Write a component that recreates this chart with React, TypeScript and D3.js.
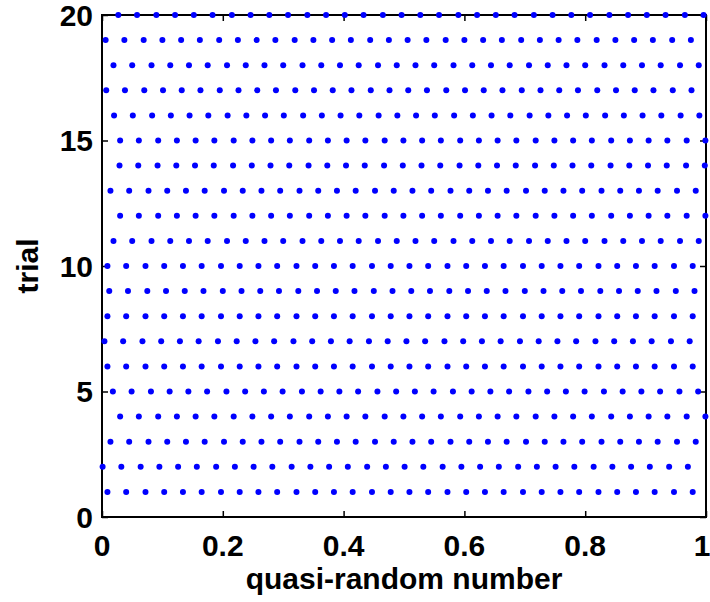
import { useEffect, useRef } from 'react'
import * as d3 from 'd3'

// quasi-random numbers, one array per trial
const trial01 = [0.009, 0.040, 0.072, 0.103, 0.134, 0.165, 0.197, 0.228, 0.259, 0.290, 0.322, 0.353, 0.384, 0.415, 0.447, 0.478, 0.509, 0.540, 0.572, 0.603, 0.634, 0.665, 0.697, 0.728, 0.759, 0.790, 0.822, 0.853, 0.884, 0.915, 0.947, 0.978]
const trial02 = [0.001, 0.032, 0.064, 0.095, 0.126, 0.157, 0.189, 0.220, 0.251, 0.282, 0.314, 0.345, 0.376, 0.407, 0.439, 0.470, 0.501, 0.532, 0.564, 0.595, 0.626, 0.657, 0.689, 0.720, 0.751, 0.782, 0.814, 0.845, 0.876, 0.907, 0.939, 0.970]
const trial03 = [0.014, 0.045, 0.077, 0.108, 0.139, 0.170, 0.202, 0.233, 0.264, 0.295, 0.327, 0.358, 0.389, 0.420, 0.452, 0.483, 0.514, 0.545, 0.577, 0.608, 0.639, 0.670, 0.702, 0.733, 0.764, 0.795, 0.827, 0.858, 0.889, 0.920, 0.952, 0.983]
const trial04 = [0.030, 0.061, 0.093, 0.124, 0.155, 0.186, 0.218, 0.249, 0.280, 0.311, 0.343, 0.374, 0.405, 0.436, 0.468, 0.499, 0.530, 0.561, 0.593, 0.624, 0.655, 0.686, 0.718, 0.749, 0.780, 0.811, 0.843, 0.874, 0.905, 0.936, 0.968, 0.999]
const trial05 = [0.018, 0.049, 0.081, 0.112, 0.143, 0.174, 0.206, 0.237, 0.268, 0.299, 0.331, 0.362, 0.393, 0.424, 0.456, 0.487, 0.518, 0.549, 0.581, 0.612, 0.643, 0.674, 0.706, 0.737, 0.768, 0.799, 0.831, 0.862, 0.893, 0.924, 0.956, 0.987]
const trial06 = [0.009, 0.040, 0.072, 0.103, 0.134, 0.165, 0.197, 0.228, 0.259, 0.290, 0.322, 0.353, 0.384, 0.415, 0.447, 0.478, 0.509, 0.540, 0.572, 0.603, 0.634, 0.665, 0.697, 0.728, 0.759, 0.790, 0.822, 0.853, 0.884, 0.915, 0.947, 0.978]
const trial07 = [0.004, 0.035, 0.067, 0.098, 0.129, 0.160, 0.192, 0.223, 0.254, 0.285, 0.317, 0.348, 0.379, 0.410, 0.442, 0.473, 0.504, 0.535, 0.567, 0.598, 0.629, 0.660, 0.692, 0.723, 0.754, 0.785, 0.817, 0.848, 0.879, 0.910, 0.942, 0.973]
const trial08 = [0.009, 0.040, 0.072, 0.103, 0.134, 0.165, 0.197, 0.228, 0.259, 0.290, 0.322, 0.353, 0.384, 0.415, 0.447, 0.478, 0.509, 0.540, 0.572, 0.603, 0.634, 0.665, 0.697, 0.728, 0.759, 0.790, 0.822, 0.853, 0.884, 0.915, 0.947, 0.978]
const trial09 = [0.012, 0.043, 0.075, 0.106, 0.137, 0.168, 0.200, 0.231, 0.262, 0.293, 0.325, 0.356, 0.387, 0.418, 0.450, 0.481, 0.512, 0.543, 0.575, 0.606, 0.637, 0.668, 0.700, 0.731, 0.762, 0.793, 0.825, 0.856, 0.887, 0.918, 0.950, 0.981]
const trial10 = [0.009, 0.040, 0.072, 0.103, 0.134, 0.165, 0.197, 0.228, 0.259, 0.290, 0.322, 0.353, 0.384, 0.415, 0.447, 0.478, 0.509, 0.540, 0.572, 0.603, 0.634, 0.665, 0.697, 0.728, 0.759, 0.790, 0.822, 0.853, 0.884, 0.915, 0.947, 0.978]
const trial11 = [0.019, 0.050, 0.082, 0.113, 0.144, 0.175, 0.207, 0.238, 0.269, 0.300, 0.332, 0.363, 0.394, 0.425, 0.457, 0.488, 0.519, 0.550, 0.582, 0.613, 0.644, 0.675, 0.707, 0.738, 0.769, 0.800, 0.832, 0.863, 0.894, 0.925, 0.957, 0.988]
const trial12 = [0.030, 0.061, 0.093, 0.124, 0.155, 0.186, 0.218, 0.249, 0.280, 0.311, 0.343, 0.374, 0.405, 0.436, 0.468, 0.499, 0.530, 0.561, 0.593, 0.624, 0.655, 0.686, 0.718, 0.749, 0.780, 0.811, 0.843, 0.874, 0.905, 0.936, 0.968, 0.999]
const trial13 = [0.014, 0.045, 0.077, 0.108, 0.139, 0.170, 0.202, 0.233, 0.264, 0.295, 0.327, 0.358, 0.389, 0.420, 0.452, 0.483, 0.514, 0.545, 0.577, 0.608, 0.639, 0.670, 0.702, 0.733, 0.764, 0.795, 0.827, 0.858, 0.889, 0.920, 0.952, 0.983]
const trial14 = [0.029, 0.060, 0.092, 0.123, 0.154, 0.185, 0.217, 0.248, 0.279, 0.310, 0.342, 0.373, 0.404, 0.435, 0.467, 0.498, 0.529, 0.560, 0.592, 0.623, 0.654, 0.685, 0.717, 0.748, 0.779, 0.810, 0.842, 0.873, 0.904, 0.935, 0.967, 0.998]
const trial15 = [0.030, 0.061, 0.093, 0.124, 0.155, 0.186, 0.218, 0.249, 0.280, 0.311, 0.343, 0.374, 0.405, 0.436, 0.468, 0.499, 0.530, 0.561, 0.593, 0.624, 0.655, 0.686, 0.718, 0.749, 0.780, 0.811, 0.843, 0.874, 0.905, 0.936, 0.968, 0.999]
const trial16 = [0.020, 0.051, 0.083, 0.114, 0.145, 0.176, 0.208, 0.239, 0.270, 0.301, 0.333, 0.364, 0.395, 0.426, 0.458, 0.489, 0.520, 0.551, 0.583, 0.614, 0.645, 0.676, 0.708, 0.739, 0.770, 0.801, 0.833, 0.864, 0.895, 0.926, 0.958, 0.989]
const trial17 = [0.007, 0.038, 0.070, 0.101, 0.132, 0.163, 0.195, 0.226, 0.257, 0.288, 0.320, 0.351, 0.382, 0.413, 0.445, 0.476, 0.507, 0.538, 0.570, 0.601, 0.632, 0.663, 0.695, 0.726, 0.757, 0.788, 0.820, 0.851, 0.882, 0.913, 0.945, 0.976]
const trial18 = [0.019, 0.050, 0.082, 0.113, 0.144, 0.175, 0.207, 0.238, 0.269, 0.300, 0.332, 0.363, 0.394, 0.425, 0.457, 0.488, 0.519, 0.550, 0.582, 0.613, 0.644, 0.675, 0.707, 0.738, 0.769, 0.800, 0.832, 0.863, 0.894, 0.925, 0.957, 0.988]
const trial19 = [0.006, 0.037, 0.069, 0.100, 0.131, 0.162, 0.194, 0.225, 0.256, 0.287, 0.319, 0.350, 0.381, 0.412, 0.444, 0.475, 0.506, 0.537, 0.569, 0.600, 0.631, 0.662, 0.694, 0.725, 0.756, 0.787, 0.819, 0.850, 0.881, 0.912, 0.944, 0.975]
const trial20 = [0.027, 0.058, 0.090, 0.121, 0.152, 0.183, 0.215, 0.246, 0.277, 0.308, 0.340, 0.371, 0.402, 0.433, 0.465, 0.496, 0.527, 0.558, 0.590, 0.621, 0.652, 0.683, 0.715, 0.746, 0.777, 0.808, 0.840, 0.871, 0.902, 0.933, 0.965, 0.996]

const trials = [
  trial01, trial02, trial03, trial04, trial05, trial06, trial07, trial08, trial09, trial10,
  trial11, trial12, trial13, trial14, trial15, trial16, trial17, trial18, trial19, trial20,
]

const xTicks = [0, 0.2, 0.4, 0.6, 0.8, 1]
const yTicks = [0, 5, 10, 15, 20]

const width = 710
const height = 602
const FONT = '"Liberation Sans", Arial, Helvetica, sans-serif'

export default function App() {
  const svgRef = useRef<SVGSVGElement>(null)

  useEffect(() => {
    if (!svgRef.current) return
    const svg = d3.select(svgRef.current)
    svg.selectAll('*').remove()

    const left = 102
    const right = 706
    const top = 15
    const bottom = 517

    const x = d3.scaleLinear().domain([0, 1]).range([left, right])
    const y = d3.scaleLinear().domain([0, 20]).range([bottom, top])

    const tickLen = 6

    // box + inward ticks on all four sides
    const axes = svg.append('g')
    axes.append('g')
      .attr('transform', `translate(0,${bottom})`)
      .call(d3.axisBottom(x).tickValues(xTicks).tickSize(-tickLen).tickFormat(() => ''))
    axes.append('g')
      .attr('transform', `translate(0,${top})`)
      .call(d3.axisTop(x).tickValues(xTicks).tickSize(-tickLen).tickFormat(() => ''))
    axes.append('g')
      .attr('transform', `translate(${left},0)`)
      .call(d3.axisLeft(y).tickValues(yTicks).tickSize(-tickLen).tickFormat(() => ''))
    axes.append('g')
      .attr('transform', `translate(${right},0)`)
      .call(d3.axisRight(y).tickValues(yTicks).tickSize(-tickLen).tickFormat(() => ''))
    axes.selectAll('.domain').remove()
    axes.selectAll('.tick line').attr('stroke', '#000').attr('stroke-width', 1.5)

    axes.append('rect')
      .attr('x', left)
      .attr('y', top)
      .attr('width', right - left)
      .attr('height', bottom - top)
      .attr('fill', 'none')
      .attr('stroke', '#000')
      .attr('stroke-width', 2)

    // tick labels (last one kept inside the page edge)
    svg.append('g')
      .selectAll('text')
      .data(xTicks)
      .enter()
      .append('text')
      .attr('x', (d) => Math.min(x(d), width - 8))
      .attr('y', 556)
      .attr('text-anchor', 'middle')
      .attr('font-family', FONT)
      .attr('font-weight', 'bold')
      .attr('font-size', 30)
      .attr('fill', '#000')
      .text((d) => String(d))

    svg.append('g')
      .selectAll('text')
      .data(yTicks)
      .enter()
      .append('text')
      .attr('x', left - 9)
      .attr('y', (d) => y(d))
      .attr('dy', '0.36em')
      .attr('text-anchor', 'end')
      .attr('font-family', FONT)
      .attr('font-weight', 'bold')
      .attr('font-size', 30)
      .attr('fill', '#000')
      .text((d) => String(d))

    // axis titles
    svg.append('text')
      .attr('x', (left + right) / 2)
      .attr('y', 589)
      .attr('text-anchor', 'middle')
      .attr('font-family', FONT)
      .attr('font-weight', 'bold')
      .attr('font-size', 30)
      .attr('fill', '#000')
      .text('quasi-random number')

    svg.append('text')
      .attr('transform', `translate(38,${(top + bottom) / 2}) rotate(-90)`)
      .attr('text-anchor', 'middle')
      .attr('font-family', FONT)
      .attr('font-weight', 'bold')
      .attr('font-size', 30)
      .attr('fill', '#000')
      .text('trial')

    // points, one row per trial
    const points = trials.flatMap((row, i) => row.map((v) => ({ trial: i + 1, v })))
    svg.append('g')
      .selectAll('circle')
      .data(points)
      .enter()
      .append('circle')
      .attr('cx', (d) => x(d.v))
      .attr('cy', (d) => y(d.trial))
      .attr('r', 3)
      .attr('fill', '#0000ff')
  }, [])

  return (
    <svg
      ref={svgRef}
      width={width}
      height={height}
      style={{ position: 'absolute', left: 0, top: 0, background: '#fff' }}
    />
  )
}
